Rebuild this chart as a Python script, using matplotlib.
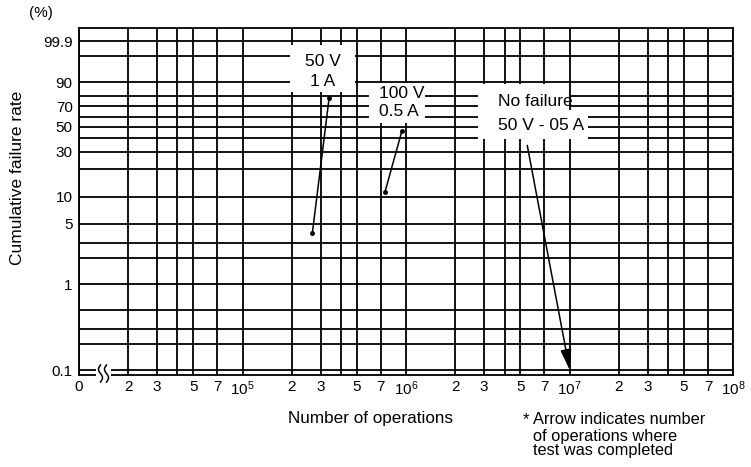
import numpy as np
import matplotlib.pyplot as plt
from matplotlib.patches import Rectangle

plt.rcParams['font.family'] = ['Liberation Sans', 'DejaVu Sans']
plt.rcParams['mathtext.fontset'] = 'custom'
plt.rcParams['mathtext.rm'] = 'Liberation Sans'
plt.rcParams['mathtext.it'] = 'Liberation Sans'

# --- data ---
y_tick_vals = [0.1, 1, 5, 10, 30, 50, 70, 90, 99.9]
y_tick_labels = ['0.1', '1', '5', '10', '30', '50', '70', '90', '99.9']
y_grid_vals = [0.2, 0.3, 0.5, 2, 3, 20, 40, 60, 80, 99]

x_tick_vals = [1e4, 2e4, 3e4, 5e4, 7e4, 1e5, 2e5, 3e5, 5e5, 7e5, 1e6,
               2e6, 3e6, 5e6, 7e6, 1e7, 2e7, 3e7, 5e7, 7e7, 1e8]
x_tick_labels = ['0', '2', '3', '5', '7', '$10^5$', '2', '3', '5', '7', '$10^6$',
                 '2', '3', '5', '7', '$10^7$', '2', '3', '5', '7', '$10^8$']
x_grid_vals = [4e4, 4e5, 4e6, 4e7]

# failure lines (operations, cumulative %)
ops_50v_1a = [2.67e5, 3.38e5]
pct_50v_1a = [3.9, 77.7]
ops_100v_05a = [7.43e5, 9.42e5]
pct_100v_05a = [11.4, 46.3]
# no failure: test completed at this many operations
ops_nofail = 1e7
pct_nofail = 0.1
ops_nofail_tail = 5.5e6
pct_nofail_tail = 34.4


def weibull(p):
    p = np.clip(np.asarray(p, dtype=float), 1e-7, 99.999999)
    return np.log(-np.log(1 - p / 100.0))


def weibull_inv(w):
    return 100.0 * (1 - np.exp(-np.exp(np.asarray(w, dtype=float))))


W, H = 751, 467
fig = plt.figure(figsize=(W / 100, H / 100), dpi=100)
ax = fig.add_axes([79 / W, 1 - 375 / H, 654.3 / W, 347 / H])

ax.set_xscale('log')
ax.set_yscale('function', functions=(weibull, weibull_inv))
ax.set_xlim(1e4, 1e8)
ax.set_ylim(0.0876, 99.995)

ax.set_xticks(x_tick_vals)
ax.set_xticklabels(x_tick_labels)
ax.set_xticks(x_grid_vals, minor=True)
ax.set_yticks(y_tick_vals)
ax.set_yticklabels(y_tick_labels)
ax.set_yticks(y_grid_vals, minor=True)
ax.tick_params(which='both', length=0)
ax.tick_params(axis='x', pad=3.5, labelsize=11)
ax.tick_params(axis='y', pad=4.5, labelsize=11)
ax.set_axisbelow(True)
ax.grid(which='both', color='black', lw=1.3)
for s in ax.spines.values():
    s.set_linewidth(1.3)


def axf(px, py):
    return ((px - 79) / 654.3, (375 - py) / 347)


def figf(px, py):
    return (px / W, 1 - py / H)


# white label backgrounds
for x0, y0, x1, y1 in [(290, 45, 355, 92), (369, 83, 425, 123),
                       (478, 84, 569, 110), (478, 110, 588, 139)]:
    (ax0, ay1), (ax1, ay0) = axf(x0, y0), axf(x1, y1)
    ax.add_patch(Rectangle((ax0, ay0), ax1 - ax0, ay1 - ay0, transform=ax.transAxes,
                           facecolor='white', edgecolor='none', zorder=2))

# failure lines
for ox, py in [(ops_50v_1a, pct_50v_1a), (ops_100v_05a, pct_100v_05a)]:
    ax.plot(ox, py, color='black', lw=1.1, marker='o', ms=2.5, zorder=4, clip_on=False)

ax.annotate('', xy=(ops_nofail, pct_nofail), xytext=(ops_nofail_tail, pct_nofail_tail),
            arrowprops=dict(arrowstyle='-|>,head_length=1.25,head_width=0.33',
                            mutation_scale=10, color='black', lw=1.1,
                            shrinkA=0, shrinkB=0), zorder=4)

# annotation texts
fs_a = 12.5
ax.text(*axf(323, 62), '50 V', transform=ax.transAxes, ha='center', va='center', fontsize=fs_a, zorder=5)
ax.text(*axf(323, 81), '1 A', transform=ax.transAxes, ha='center', va='center', fontsize=fs_a, zorder=5)
ax.text(*axf(379, 93), '100 V', transform=ax.transAxes, ha='left', va='center', fontsize=fs_a, zorder=5)
ax.text(*axf(379, 112), '0.5 A', transform=ax.transAxes, ha='left', va='center', fontsize=fs_a, zorder=5)
ax.text(*axf(498, 101.5), 'No failure', transform=ax.transAxes, ha='left', va='center', fontsize=fs_a, zorder=5)
ax.text(*axf(498, 126), '50 V - 05 A', transform=ax.transAxes, ha='left', va='center', fontsize=fs_a, zorder=5)

# axis break on the x axis
ax.add_patch(Rectangle(figf(96, 378), 15 / W, 12 / H, transform=fig.transFigure,
                       facecolor='white', edgecolor='none', zorder=6, clip_on=False))
t = np.linspace(0, 1, 40)
for x0 in [100.5, 106.5]:
    xs = x0 - 2.0 * np.sin(2 * np.pi * t)
    ys = 365 + 17 * t
    ax.plot(xs / W, 1 - ys / H, color='black', lw=1.1, transform=fig.transFigure,
            clip_on=False, zorder=7)

# labels
fig.text(*figf(41, 13), '(%)', ha='center', va='center', fontsize=11)
fig.text(*figf(18, 178), 'Cumulative failure rate', rotation=90, ha='center', va='center', fontsize=12.5)
fig.text(*figf(371, 419), 'Number of operations', ha='center', va='center', fontsize=12.3)
fig.text(*figf(523, 420), '*', ha='left', va='center', fontsize=12)
fig.text(*figf(533, 420), 'Arrow indicates number', ha='left', va='center', fontsize=11.8)
fig.text(*figf(533, 436), 'of operations where', ha='left', va='center', fontsize=11.8)
fig.text(*figf(533, 451), 'test was completed', ha='left', va='center', fontsize=11.8)

fig.savefig('out.png', dpi=100)
